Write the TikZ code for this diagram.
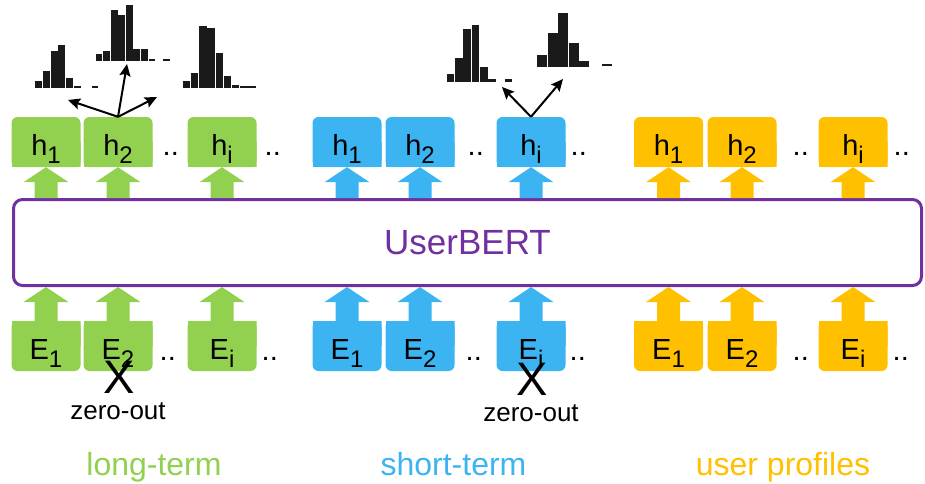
\documentclass[tikz,border=0pt]{standalone}
\usepackage{fontspec}
\setmainfont{Liberation Sans}
\usetikzlibrary{arrows.meta,calc}

\definecolor{lgreen}{RGB}{146,208,80}
\definecolor{lblue}{RGB}{59,180,241}
\definecolor{lorange}{RGB}{255,192,0}
\definecolor{bertpurple}{RGB}{112,48,160}
\definecolor{barcol}{RGB}{26,26,26}

% subscripted label inside a token box
\newcommand\sublbl[2]{#1\raisebox{-8pt}{\fontsize{24}{24}\selectfont #2}}

% upward block arrow from a base point to a tip point
\newcommand\blockup[3]{%
  \fill[#3] let \p1=(#1), \p2=(#2) in
    (\x2-11.5pt,\y1) -- (\x2-11.5pt,\y2-15pt) -- (\x2-22.5pt,\y2-15pt) --
    (\x2,\y2) -- (\x2+22.5pt,\y2-15pt) -- (\x2+11.5pt,\y2-15pt) --
    (\x2+11.5pt,\y1) -- cycle;}

% small bar histogram: left x, baseline y, bar width, bar heights
\newcommand\histo[4]{%
  \foreach \hh [count=\k from 0] in {#4}
    {\fill[barcol] ({#1+\k*#3},#2) rectangle ++({#3-0.8},-\hh);}}

\tikzset{
  tok/.style={minimum width=69pt, minimum height=50pt, inner sep=0pt,
    text height=26pt, text depth=0pt, font=\fontsize{29}{29}\selectfont},
  hbox/.style={tok, path picture={
    \fill[#1, rounded corners=6pt] (path picture bounding box.south west)
      rectangle (path picture bounding box.north east);
    \fill[#1] (path picture bounding box.south west)
      rectangle (path picture bounding box.east);}},
  ebox/.style={tok, path picture={
    \fill[#1, rounded corners=6pt] (path picture bounding box.south west)
      rectangle (path picture bounding box.north east);
    \fill[#1] (path picture bounding box.north west)
      rectangle (path picture bounding box.east);}},
  ellip/.style={anchor=base west, inner sep=0pt, font=\fontsize{29}{29}\selectfont},
  grouplbl/.style={anchor=base, inner sep=0pt, font=\fontsize{32}{32}\selectfont},
  zerolbl/.style={anchor=base, inner sep=0pt, font=\fontsize{26}{26}\selectfont},
  cross/.style={anchor=base, inner sep=0pt, font=\fontsize{47}{47}\selectfont},
  histarrow/.style={line width=2pt, -{Stealth[length=12pt,width=11pt,inset=2pt]}},
}

\begin{document}
\begin{tikzpicture}[x=1pt,y=-1pt]
\useasboundingbox (0,0) rectangle (925,483);

% encoder block
\node[draw=bertpurple, line width=3pt, rounded corners=9pt,
      minimum width=908pt, minimum height=86pt, inner sep=0pt,
      text=bertpurple, font=\fontsize{35}{35}\selectfont]
      (bert) at (467.5,242.5) {UserBERT};

% ---- long-term group
\node[hbox=lgreen] (gh1) at (46,142)  {\sublbl{h}{1}};
\node[hbox=lgreen] (gh2) at (118,142) {\sublbl{h}{2}};
\node[hbox=lgreen] (ghi) at (222,142) {\sublbl{h}{i}};
\node[ebox=lgreen] (ge1) at (46,346)  {\sublbl{E}{1}};
\node[ebox=lgreen] (ge2) at (118,346) {\sublbl{E}{2}};
\node[ebox=lgreen] (gei) at (222,346) {\sublbl{E}{i}};

% ---- short-term group
\node[hbox=lblue] (bh1) at (347,142) {\sublbl{h}{1}};
\node[hbox=lblue] (bh2) at (420,142) {\sublbl{h}{2}};
\node[hbox=lblue] (bhi) at (531,142) {\sublbl{h}{i}};
\node[ebox=lblue] (be1) at (347,346) {\sublbl{E}{1}};
\node[ebox=lblue] (be2) at (420,346) {\sublbl{E}{2}};
\node[ebox=lblue] (bei) at (531,346) {\sublbl{E}{i}};

% ---- user profile group
\node[hbox=lorange] (oh1) at (668.5,142) {\sublbl{h}{1}};
\node[hbox=lorange] (oh2) at (742,142)   {\sublbl{h}{2}};
\node[hbox=lorange] (ohi) at (853,142)   {\sublbl{h}{i}};
\node[ebox=lorange] (oe1) at (668.5,346) {\sublbl{E}{1}};
\node[ebox=lorange] (oe2) at (742,346)   {\sublbl{E}{2}};
\node[ebox=lorange] (oei) at (853,346)   {\sublbl{E}{i}};

% block arrows into and out of the encoder
\foreach \tk/\cl in {gh1/lgreen,gh2/lgreen,ghi/lgreen,bh1/lblue,bh2/lblue,bhi/lblue,
                     oh1/lorange,oh2/lorange,ohi/lorange}
  {\blockup{\tk.south |- bert.north}{\tk.south}{\cl}}
\foreach \tk/\cl in {ge1/lgreen,ge2/lgreen,gei/lgreen,be1/lblue,be2/lblue,bei/lblue,
                     oe1/lorange,oe2/lorange,oei/lorange}
  {\blockup{\tk.north}{\tk.north |- bert.south}{\cl}}

% ellipses between tokens
\node[ellip] (gd1) at (162.5,155) {..};
\node[ellip] (gd2) at (264.5,155) {..};
\node[ellip] (gd3) at (159.5,360) {..};
\node[ellip] (gd4) at (261.5,360) {..};
\node[ellip] (bd1) at (467.5,155) {..};
\node[ellip] (bd2) at (570.5,155) {..};
\node[ellip] (bd3) at (465.5,360) {..};
\node[ellip] (bd4) at (569.5,360) {..};
\node[ellip] (od1) at (792.5,155) {..};
\node[ellip] (od2) at (893.5,155) {..};
\node[ellip] (od3) at (792.5,360) {..};
\node[ellip] (od4) at (892.5,360) {..};

% masked tokens
\node[cross]   (gx)  at (119,393) {X};
\node[zerolbl] (gzo) at (118,419) {zero-out};
\node[cross]   (bx)  at (532,395) {X};
\node[zerolbl] (bzo) at (531,421) {zero-out};

% group names
\node[grouplbl, text=lgreen]  (glbl) at (154,475)   {long-term};
\node[grouplbl, text=lblue]   (blbl) at (453.5,475) {short-term};
\node[grouplbl, text=lorange] (olbl) at (783,475)   {user profiles};

% predicted distributions
\histo{35}{88}{7.8}{7,17,37,43,10,2}
\fill[barcol] (91.7,88) rectangle (98.3,86);
\histo{95.7}{61}{7.55}{7,10,51,46,56,12,12,2}
\fill[barcol] (162.7,61) rectangle (170,59);
\histo{182.7}{88.3}{8.22}{7,15,62,60,35,12,3,2,2}
\histo{446.7}{82.3}{8.33}{8,24,53,57,15,3}
\fill[barcol] (505,82.3) rectangle (512.3,79.3);
\histo{537.3}{66.7}{10.5}{12,34,54,24,6}
\fill[barcol] (601.7,66.3) rectangle (611.7,64.3);

\coordinate (ga1) at (68,100);
\coordinate (ga2) at (127,64);
\coordinate (ga3) at (157,97);
\coordinate (ba1) at (502,87);
\coordinate (ba2) at (563,79);
\foreach \e in {ga1,ga2,ga3} {\draw[histarrow] (gh2.north) -- (\e);}
\foreach \e in {ba1,ba2} {\draw[histarrow] (bhi.north) -- (\e);}
\end{tikzpicture}
\end{document}
